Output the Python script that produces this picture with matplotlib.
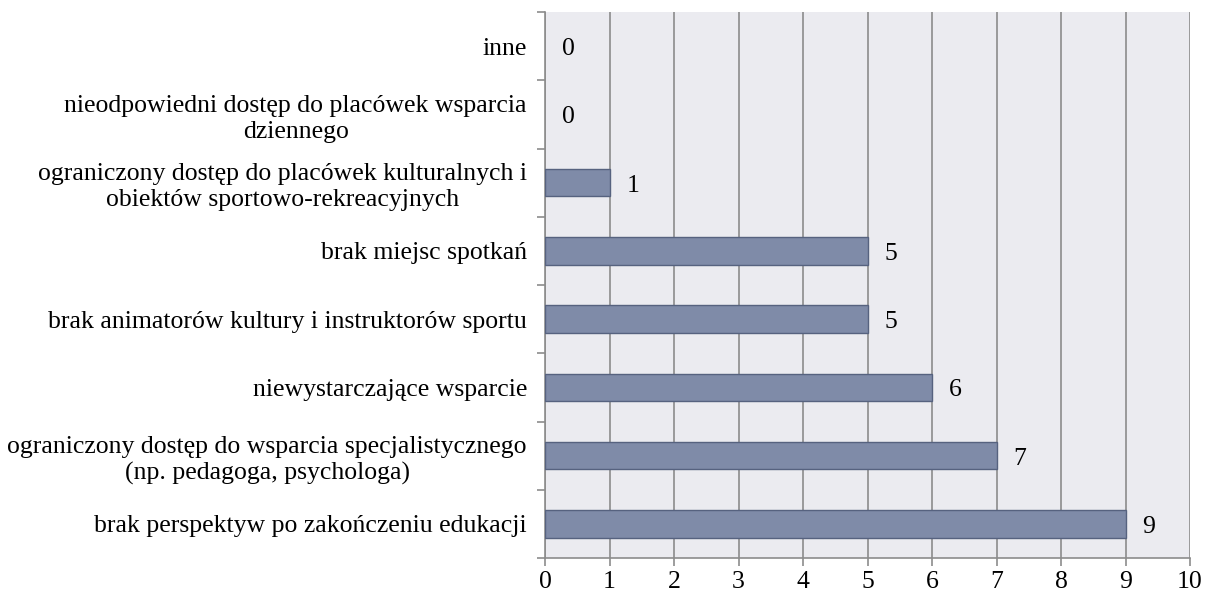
import matplotlib
matplotlib.use("Agg")
import matplotlib.pyplot as plt
import numpy as np

categories = [
    "brak perspektyw po zakończeniu edukacji",
    "ograniczony dostęp do wsparcia specjalistycznego\n(np. pedagoga, psychologa)",
    "niewystarczające wsparcie",
    "brak animatorów kultury i instruktorów sportu",
    "brak miejsc spotkań",
    "ograniczony dostęp do placówek kulturalnych i\nobiektów sportowo-rekreacyjnych",
    "nieodpowiedni dostęp do placówek wsparcia\ndziennego",
    "inne",
]
values = [9, 7, 6, 5, 5, 1, 0, 0]
xticks = list(range(0, 11))

plt.rcParams['font.family'] = ['Liberation Serif', 'DejaVu Serif']

fig = plt.figure(figsize=(12.07, 6.03), dpi=100)
ax = fig.add_axes([545/1207, 1-558/603, (1190-545)/1207, (558-12)/603])
ax.set_facecolor('#EBEBF0')

y = np.arange(len(categories))
bars = ax.barh(y, values, height=0.4, color='#7F8BA8', edgecolor='#56627F', linewidth=1, zorder=3)
for b, v in zip(bars, values):
    if v == 0:
        b.set_linewidth(0)

ax.set_xlim(0, 10)
ax.set_ylim(-0.5, len(categories)-0.5)
ax.set_xticks(xticks)
ax.set_xticklabels([str(t) for t in xticks], fontsize=18.5)
ax.xaxis.grid(True, color='#8C8C8C', linewidth=1.2, zorder=1)

ax.set_yticks(y)
ax.set_yticklabels(categories, fontsize=18.5, ha='right', multialignment='center', linespacing=1.25)
ax.tick_params(axis='y', length=0, pad=13)
ax.set_yticks(np.arange(-0.5, len(categories), 1), minor=True)
ax.tick_params(axis='y', which='minor', length=6, color='#8C8C8C', width=1.2)
ax.tick_params(axis='x', length=6, color='#8C8C8C', width=1.2, pad=3)

for s in ['top', 'right']:
    ax.spines[s].set_visible(False)
for s in ['left', 'bottom']:
    ax.spines[s].set_color('#8C8C8C')
    ax.spines[s].set_linewidth(1.2)

for yi, v in zip(y, values):
    ax.annotate(str(v), xy=(v, yi), xytext=(17, -3), textcoords='offset pixels',
                va='center', ha='left', fontsize=18.5, zorder=4)

fig.savefig('out.png', dpi=100)
